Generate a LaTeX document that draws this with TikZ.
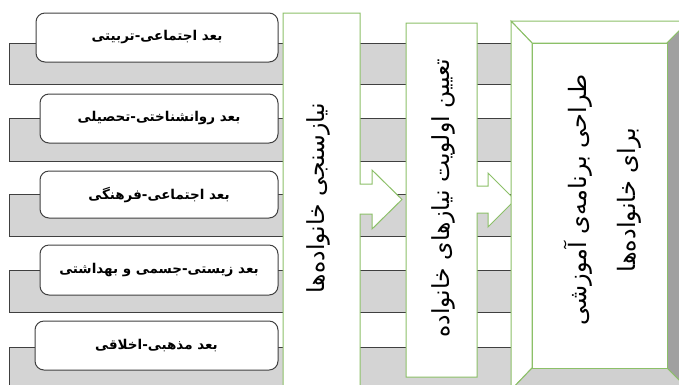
\documentclass[tikz,border=0pt]{standalone}
\usepackage{fontspec}
\newfontfamily\arabicfont[Script=Arabic]{DejaVu Sans}
\TeXXeTstate=1
\definecolor{grn}{RGB}{140,192,104}
\definecolor{bandgray}{RGB}{212,212,212}
\definecolor{edgegray}{RGB}{64,64,64}
\definecolor{darkbevel}{RGB}{160,160,160}
\definecolor{lightbevel}{RGB}{208,208,208}
\tikzset{
  band/.style={fill=bandgray,draw=edgegray,line width=1pt},
  dimbox/.style={draw=edgegray,fill=white,line width=1pt,rounded corners=9pt},
  dimtext/.style={font=\arabicfont\bfseries\fontsize{13.5}{15}\selectfont},
  arrowshape/.style={draw=grn,fill=white,line width=1pt,line join=miter},
  vtext/.style={rotate=90,font=\arabicfont\fontsize{23.5}{26}\selectfont},
  ftext/.style={rotate=90,align=center,font=\arabicfont\fontsize{24}{49}\selectfont},
}
\begin{document}
\begin{tikzpicture}[x=1pt,y=-1pt]
\useasboundingbox (0,0) rectangle (679,384);
\clip (0,0) rectangle (679,384);
% bands
\foreach \t/\b in {43/84,118/161,194/236,270/312,347/400}{
  \draw[band] (520,\t) -- (9,\t) -- (9,\b) -- (520,\b);
}
% dimension boxes
\draw[dimbox] (36,13) rectangle (278,62);
\node[dimtext] (t1) at (157,37.5) {\beginR بعد اجتماعی-تربیتی\endR};
\draw[dimbox] (40,94) rectangle (278,143);
\node[dimtext] (t2) at (159,118.5) {\beginR بعد روانشناختی-تحصیلی\endR};
\draw[dimbox] (40,171) rectangle (278,218);
\node[dimtext] (t3) at (159,194.5) {\beginR بعد اجتماعی-فرهنگی\endR};
\draw[dimbox] (40,245) rectangle (278,295);
\node[dimtext] (t4) at (159,270) {\beginR بعد زیستی-جسمی و بهداشتی\endR};
\draw[dimbox] (35,321) rectangle (278,370);
\node[dimtext] (t5) at (156.5,345.5) {\beginR بعد مذهبی-اخلاقی\endR};
% arrow 1
\draw[arrowshape] (283,400) -- (283,13) -- (360,13) -- (360,184) -- (372,184) -- (372,170)
  -- (402,199.5) -- (372,229) -- (372,214) -- (360,214) -- (360,400);
\node[vtext] (a1) at (318,198) {\beginR نیازسنجی خانواده^^^^200cها\endR};
% arrow 2
\draw[arrowshape] (406,377) -- (406,23) -- (477,23) -- (477,186) -- (488,186) -- (488,173)
  -- (515,200) -- (488,227) -- (488,213) -- (477,213) -- (477,377) -- cycle;
\node[vtext] (a2) at (443,198) {\beginR تعیین اولویت نیازهای خانواده\endR};
% final bevel box
\coordinate (oTL) at (511,21); \coordinate (oTR) at (689,21);
\coordinate (oBL) at (511,390); \coordinate (oBR) at (689,390);
\coordinate (iTL) at (532,43); \coordinate (iTR) at (667,43);
\coordinate (iBL) at (532,368); \coordinate (iBR) at (667,368);
\draw[arrowshape] (oTL) -- (oTR) -- (iTR) -- (iTL) -- cycle;
\draw[arrowshape] (oTL) -- (iTL) -- (iBL) -- (oBL) -- cycle;
\draw[arrowshape,fill=darkbevel] (oTR) -- (oBR) -- (iBR) -- (iTR) -- cycle;
\draw[arrowshape,fill=lightbevel] (oBL) -- (iBL) -- (iBR) -- (oBR) -- cycle;
\draw[arrowshape] (iTL) rectangle (iBR);
\node[ftext] (f) at (603,200) {\beginR طراحی برنامه^^^^200cی آموزشی\endR\\\beginR برای خانواده^^^^200cها\endR};
\end{tikzpicture}
\end{document}
